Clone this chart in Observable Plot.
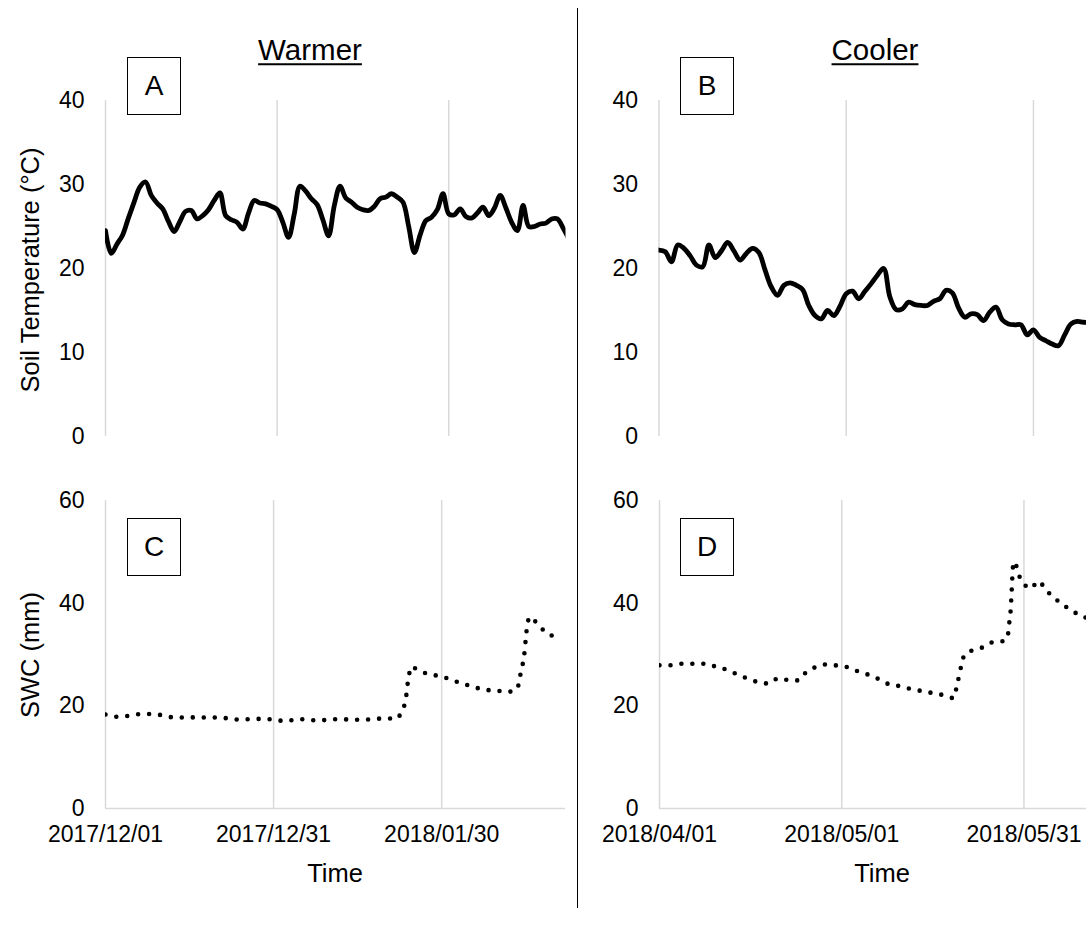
<!DOCTYPE html>
<html>
<head>
<meta charset="utf-8">
<script src="https://cdn.jsdelivr.net/npm/d3@7"></script>
<script src="https://cdn.jsdelivr.net/npm/@observablehq/plot@0.6"></script>
<style>
  body { margin: 0; background: #fff; }
  #wrap { position: relative; width: 1086px; height: 926px; overflow: hidden; background: #fff;
          font-family: "Liberation Sans", Arial, sans-serif; color: #000; }
  .panel { position: absolute; }
  .t { position: absolute; white-space: nowrap; transform: translate(-50%, -50%); line-height: 1; }
  .title { font-size: 29.5px; text-decoration: underline; text-decoration-thickness: 2px; text-underline-offset: 3px; }
  .axt { font-size: 25.5px; }
  .rot { transform: translate(-50%, -50%) rotate(-90deg); }
  .box { position: absolute; width: 54px; height: 58px; box-sizing: border-box; border: 1.3px solid #000;
         background: #fff; font-size: 28px; display: flex; align-items: center; justify-content: center; }
  #divider { position: absolute; left: 577px; top: 8px; width: 1.3px; height: 900px; background: #000; }
</style>
</head>
<body>
<div id="wrap"></div>
<script>
// ---------------- data ----------------
// Panel A: daily soil temperature (°C), Warmer site, from 2017/12/01
const warmStart = "2017-12-01";
const warmTemp = [
  24.5,21.8,22.9,24.0,26.0,27.9,29.7,30.3,28.7,27.8,
  27.1,25.6,24.4,25.6,26.8,26.9,25.9,26.3,27.0,28.1,
  29.0,26.3,25.8,25.5,24.7,26.6,28.1,27.8,27.7,27.4,
  27.0,25.5,23.7,26.5,29.8,29.2,28.3,27.6,25.8,23.9,
  27.5,29.8,28.4,27.9,27.3,27.0,26.9,27.4,28.3,28.5,
  28.9,28.5,27.9,25.0,21.9,24.0,25.7,26.1,27.0,28.9,
  26.5,26.4,27.1,26.2,26.0,26.6,27.3,26.3,27.2,28.7,
  27.2,25.5,24.5,27.5,25.0,25.0,25.3,25.4,25.9,25.9,
  24.8,23.5
];
// Panel B: daily soil temperature (°C), Cooler site, from 2018/04/01
const coolStart = "2018-04-01";
const coolTemp = [
  22.2,22.0,20.8,22.8,22.4,21.5,20.4,20.2,22.8,21.3,
  22.1,23.1,22.1,21.0,21.8,22.4,21.9,19.8,17.8,16.8,
  18.0,18.3,18.0,17.5,15.6,14.4,14.0,15.0,14.4,15.5,
  17.0,17.3,16.4,17.3,18.2,19.2,20.0,16.6,15.1,15.2,
  16.0,15.7,15.6,15.6,16.1,16.4,17.4,17.1,15.3,14.2,
  14.6,14.5,13.8,14.8,15.4,13.9,13.4,13.3,13.3,12.1,
  12.7,11.8,11.4,11.0,10.8,12.1,13.4,13.7,13.6,13.6
];
// Panel C: SWC (mm), Warmer site; day offsets from 2017/12/01
const warmSwcDay = [0,2.4,4.4,6.4,8.4,10.4,12.4,14.4,16.3,18.3,20.3,22.3,24.3,26.3,28.2,30.2,32.2,34.2,36.2,38.2,
  40.1,42.1,44.1,46.1,48.0,50.0,52.0,52.9,53.6,53.8,54.1,54.5,56.2,58.1,60.0,61.9,63.8,65.7,67.7,69.6,
  71.6,73.5,73.9,74.3,74.7,74.9,75.1,75.3,75.9,77.2,78.7,80.5,81.0];
const warmSwc = [18.3,17.85,18.1,18.4,18.4,18.1,17.7,17.75,17.75,17.7,17.75,17.45,17.3,17.45,17.45,17.3,17.0,17.4,17.3,17.1,
  17.4,17.4,17.3,17.3,17.45,17.55,17.5,19.1,21.2,23.3,25.4,27.6,26.7,26.1,25.7,25.0,24.3,23.7,23.1,23.0,
  22.7,23.3,25.3,27.4,29.6,31.8,34.0,36.1,37.35,35.7,34.3,33.2,32.9];
// Panel D: SWC (mm), Cooler site; day offsets from 2018/04/01
const coolSwcDay = [0,2.3,4.1,5.9,7.7,9.5,11.3,13.0,14.7,16.4,18.0,19.6,21.3,22.8,24.1,25.6,27.3,29.2,31.0,32.7,
  34.4,36.1,37.8,39.5,41.3,43.1,44.9,46.7,48.5,48.9,49.3,49.7,50.2,51.7,53.5,55.1,56.8,57.4,57.6,57.8,
  58.0,58.2,58.5,59.0,59.8,61.1,62.4,63.6,64.9,66.3,67.8,69.5,70.4];
const coolSwc = [27.9,27.9,28.25,28.2,28.2,27.5,26.95,26.0,25.25,24.55,24.35,25.4,25.0,24.95,26.5,27.5,28.05,27.85,27.5,26.7,
  26.05,25.2,24.2,23.85,23.3,22.9,22.5,22.1,21.5,23.6,25.7,27.9,29.9,30.9,31.5,32.5,32.6,34.1,36.3,38.4,
  42.8,47.1,48.1,46.0,44.1,42.9,44.3,42.6,41.1,39.8,38.6,37.5,37.1];

const warmTicks = ["2017/12/01", "2017/12/31", "2018/01/30"];
const coolTicks = ["2018/04/01", "2018/05/01", "2018/05/31"];
const tempTicks = [0, 10, 20, 30, 40];
const swcTicks = [0, 20, 40, 60];

// ---------------- helpers ----------------
const DAY = 864e5;
const parseTick = d3.utcParse("%Y/%m/%d");
const fmtTick = d3.utcFormat("%Y/%m/%d");
const startOf = s => new Date(s + "T00:00:00Z");
const daily = (start, vals) => vals.map((v, i) => ({date: new Date(+startOf(start) + i * DAY), value: v}));
const byDay = (start, days, vals) => days.map((d, i) => ({date: new Date(+startOf(start) + d * DAY), value: vals[i]}));

const FONT = '"Liberation Sans", Arial, sans-serif';
const wrap = document.getElementById("wrap");

function panel(o) {
  const start = startOf(o.start);
  const xTicks = o.xTicks.map(parseTick);
  const marks = [Plot.ruleX(xTicks, {stroke: "#d9d9d9", strokeWidth: 1.5})];
  if (o.bottom) marks.push(Plot.ruleY([0], {stroke: "#d9d9d9", strokeWidth: 1.5}));
  marks.push(Plot.axisY(o.yTicks, {tickSize: 0, tickPadding: 21, label: null, fontSize: 23}));
  if (o.bottom) marks.push(Plot.axisX(xTicks, {tickSize: 0, tickPadding: 17, label: null, fontSize: 23, tickFormat: fmtTick}));
  marks.push(Plot.line(o.data, {
    x: "date", y: "value", stroke: "#000", strokeWidth: o.dotted ? 4.6 : 4.8, clip: true,
    curve: o.dotted ? "monotone-x" : "catmull-rom",
    strokeLinecap: "round", strokeLinejoin: "round",
    ...(o.dotted ? {strokeDasharray: "0,11"} : {})
  }));
  const svg = Plot.plot({
    width: o.width, height: o.height,
    marginLeft: o.mL, marginRight: o.mR, marginTop: o.mT, marginBottom: o.mB,
    x: {type: "utc", domain: [start, new Date(+start + o.days * DAY)], ...(o.bottom ? {} : {axis: null})},
    y: {domain: o.yDomain},
    style: {fontFamily: FONT, fontSize: "23px", color: "#000", background: "transparent", overflow: "visible"},
    marks
  });
  svg.classList.add("panel");
  svg.style.left = o.left + "px";
  svg.style.top = o.top + "px";
  wrap.appendChild(svg);
}

// A
panel({start: warmStart, days: 80.5, data: daily(warmStart, warmTemp), xTicks: warmTicks,
  yTicks: tempTicks, yDomain: [0, 40], left: 0, top: 80, width: 580, height: 366,
  mL: 105, mR: 14.5, mT: 20, mB: 10});
// B
panel({start: coolStart, days: 68.5, data: daily(coolStart, coolTemp), xTicks: coolTicks,
  yTicks: tempTicks, yDomain: [0, 40], left: 590, top: 80, width: 496, height: 366,
  mL: 68.5, mR: 0, mT: 20, mB: 10});
// C
panel({start: warmStart, days: 82.1, data: byDay(warmStart, warmSwcDay, warmSwc), xTicks: warmTicks,
  yTicks: swcTicks, yDomain: [0, 60], left: 0, top: 480, width: 580, height: 380,
  mL: 105, mR: 15, mT: 20, mB: 52, bottom: true, dotted: true});
// D
panel({start: coolStart, days: 70.3, data: byDay(coolStart, coolSwcDay, coolSwc), xTicks: coolTicks,
  yTicks: swcTicks, yDomain: [0, 60], left: 590, top: 480, width: 496, height: 380,
  mL: 69, mR: 0, mT: 20, mB: 52, bottom: true, dotted: true});

// ---------------- text & decorations ----------------
function addText(txt, x, y, cls) {
  const d = document.createElement("div");
  d.className = "t " + cls;
  d.textContent = txt;
  d.style.left = x + "px";
  d.style.top = y + "px";
  wrap.appendChild(d);
}
function addBox(txt, x, y) {
  const d = document.createElement("div");
  d.className = "box";
  d.textContent = txt;
  d.style.left = x + "px";
  d.style.top = y + "px";
  wrap.appendChild(d);
}
const div = document.createElement("div");
div.id = "divider";
wrap.appendChild(div);

addText("Warmer", 310, 50, "title");
addText("Cooler", 875, 50, "title");
addBox("A", 127, 57);
addBox("B", 680, 57);
addBox("C", 127, 518);
addBox("D", 680, 518);
addText("Soil Temperature (°C)", 31, 270, "axt rot");
addText("SWC (mm)", 31, 655, "axt rot");
addText("Time", 335, 874, "axt");
addText("Time", 882, 874, "axt");
</script>
</body>
</html>
